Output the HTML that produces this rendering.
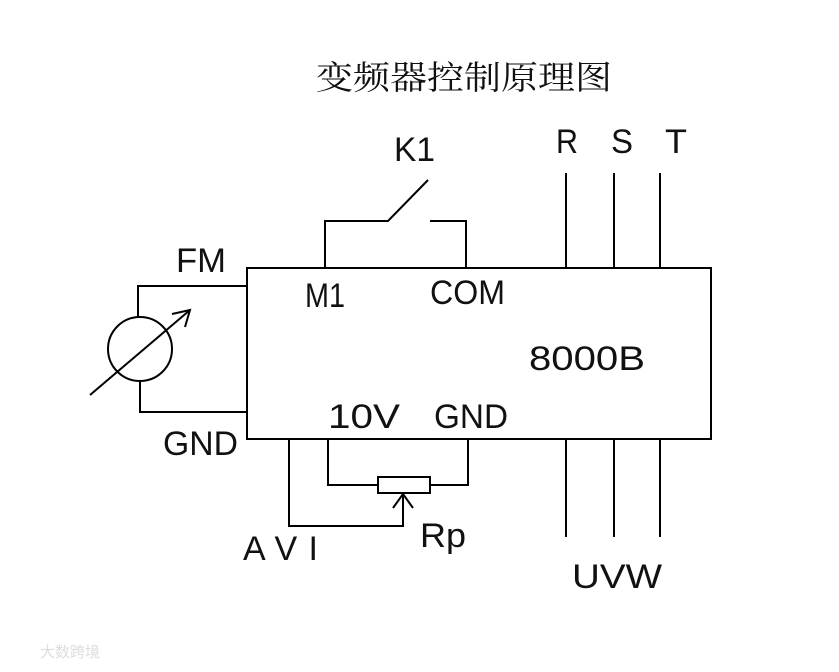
<!DOCTYPE html>
<html><head><meta charset="utf-8"><style>
body{margin:0;background:#fff;}
svg text{font-family:"Liberation Sans","Noto Sans CJK SC",sans-serif;fill:#111;}
</style></head><body>
<svg width="839" height="667" viewBox="0 0 839 667" xmlns="http://www.w3.org/2000/svg">
<g stroke="#000" stroke-width="2" fill="none">
<rect x="247" y="268" width="464" height="171"/>
<polyline points="325,268 325,221 388,221 428,180"/>
<polyline points="430,221 466,221 466,268"/>
<polyline points="247,286 138,286 138,317"/>
<circle cx="140" cy="349" r="32"/>
<polyline points="140,381 140,412 247,412"/>
<line x1="90" y1="395" x2="190" y2="310"/>
<polyline points="172,314 190,310 185,327"/>
<polyline points="289,439 289,526 403,526 403,493"/>
<polyline points="328,439 328,485 378,485"/>
<rect x="378" y="477" width="52" height="16"/>
<polyline points="430,485 468,485 468,439"/>
<polyline points="393,508 403,494 413,508"/>
<line x1="566" y1="173" x2="566" y2="268"/>
<line x1="614" y1="173" x2="614" y2="268"/>
<line x1="660" y1="173" x2="660" y2="268"/>
<line x1="566" y1="439" x2="566" y2="537"/>
<line x1="614" y1="439" x2="614" y2="537"/>
<line x1="660" y1="439" x2="660" y2="537"/>
</g>
<g font-size="34">
<text x="316" y="89" style="font-family:'Noto Serif CJK SC',serif" font-size="33" textLength="296" lengthAdjust="spacingAndGlyphs">变频器控制原理图</text>
<text x="556" y="153" textLength="22" lengthAdjust="spacingAndGlyphs">R</text>
<text x="611" y="153" textLength="22" lengthAdjust="spacingAndGlyphs">S</text>
<text x="665" y="153" textLength="22" lengthAdjust="spacingAndGlyphs">T</text>
<text x="394" y="161" textLength="41" lengthAdjust="spacingAndGlyphs">K1</text>
<text x="176" y="272" textLength="50" lengthAdjust="spacingAndGlyphs">FM</text>
<text x="305" y="307" textLength="40" lengthAdjust="spacingAndGlyphs">M1</text>
<text x="430" y="304" textLength="75" lengthAdjust="spacingAndGlyphs">COM</text>
<text x="529" y="370" textLength="116" lengthAdjust="spacingAndGlyphs">8000B</text>
<text x="328" y="428" textLength="72" lengthAdjust="spacingAndGlyphs">10V</text>
<text x="434" y="428" textLength="74" lengthAdjust="spacingAndGlyphs">GND</text>
<text x="163" y="455" textLength="75" lengthAdjust="spacingAndGlyphs">GND</text>
<text x="243" y="560" textLength="75" lengthAdjust="spacing">AVI</text>
<text x="420" y="547" textLength="46" lengthAdjust="spacingAndGlyphs">Rp</text>
<text x="572" y="588" textLength="90" lengthAdjust="spacingAndGlyphs">UVW</text>
</g>
<text x="40" y="657" font-size="15" style="fill:#ddd">大数跨境</text>
</svg>
</body></html>
